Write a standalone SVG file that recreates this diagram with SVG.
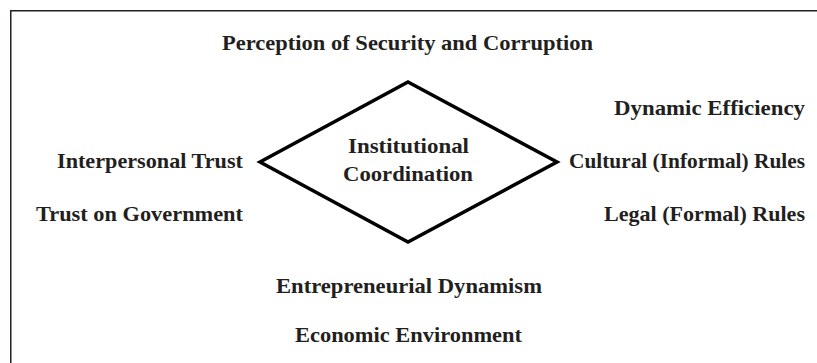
<svg xmlns="http://www.w3.org/2000/svg" width="817" height="363" viewBox="0 0 817 363">
<style>
  .lbl { font-family: "Liberation Serif", "Times New Roman", serif; font-weight: bold; font-size: 22px; fill: #231f20; }
  .frame { fill: none; stroke: #231f20; stroke-width: 1.5; }
  .diamond { fill: #ffffff; stroke: #000000; stroke-width: 3.5; stroke-linejoin: miter; }
</style>
<rect width="817" height="363" fill="#ffffff"/>
<path class="frame" d="M10.75 370 V10.75 H830"/>
<g id="connectors"></g>
<g id="node-institutional-coordination">
  <polygon class="diamond" points="408,82 557,162 408,242 260,162"/>
  <text class="lbl" x="348" y="152.5" textLength="121" lengthAdjust="spacingAndGlyphs">Institutional</text>
  <text class="lbl" x="343" y="180.5" textLength="130" lengthAdjust="spacingAndGlyphs">Coordination</text>
</g>
<g id="node-perception">
  <text class="lbl" x="222" y="50" textLength="371" lengthAdjust="spacingAndGlyphs">Perception of Security and Corruption</text>
</g>
<g id="node-dynamic-efficiency">
  <text class="lbl" x="614" y="115" textLength="191" lengthAdjust="spacingAndGlyphs">Dynamic Efficiency</text>
</g>
<g id="node-cultural-rules">
  <text class="lbl" x="569" y="168" textLength="236" lengthAdjust="spacingAndGlyphs">Cultural (Informal) Rules</text>
</g>
<g id="node-legal-rules">
  <text class="lbl" x="604" y="220.5" textLength="201" lengthAdjust="spacingAndGlyphs">Legal (Formal) Rules</text>
</g>
<g id="node-interpersonal-trust">
  <text class="lbl" x="57" y="167.5" textLength="186" lengthAdjust="spacingAndGlyphs">Interpersonal Trust</text>
</g>
<g id="node-trust-government">
  <text class="lbl" x="36" y="220.5" textLength="207" lengthAdjust="spacingAndGlyphs">Trust on Government</text>
</g>
<g id="node-entrepreneurial-dynamism">
  <text class="lbl" x="276" y="292.5" textLength="266" lengthAdjust="spacingAndGlyphs">Entrepreneurial Dynamism</text>
</g>
<g id="node-economic-environment">
  <text class="lbl" x="295" y="341.5" textLength="227" lengthAdjust="spacingAndGlyphs">Economic Environment</text>
</g>
</svg>
